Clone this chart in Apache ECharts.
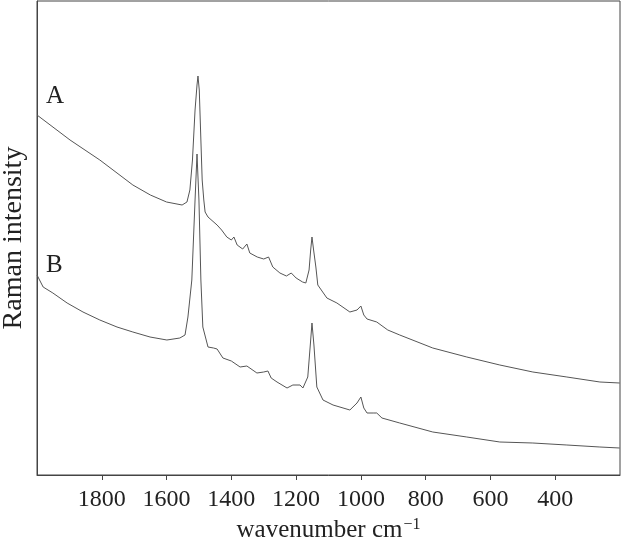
<!DOCTYPE html>
<html>
<head>
<meta charset="utf-8">
<script src="https://cdn.jsdelivr.net/npm/echarts@6/dist/echarts.min.js"></script>
<style>
  html, body { margin: 0; padding: 0; background: #fff; }
  #chart { width: 622px; height: 539px; }
</style>
</head>
<body>
<div id="chart"></div>
<script>
// wavenumber (cm-1) and intensity (arbitrary units)
var wavenumberA = [2000, 1898, 1806, 1704, 1650, 1600, 1552, 1537, 1528, 1520, 1512, 1506, 1503, 1499, 1494, 1490, 1485, 1481, 1472, 1444, 1430, 1414, 1400, 1392, 1382, 1365, 1352, 1343, 1320, 1300, 1285, 1272, 1250, 1230, 1215, 1200, 1180, 1170, 1160, 1155, 1151, 1146, 1139, 1133, 1105, 1074, 1034, 1012, 1000, 991, 981, 951, 917, 880, 778, 673, 571, 469, 364, 262, 201]
var intensityA = [360, 335, 315, 290, 280, 273, 270, 273, 285, 315, 365, 390, 399, 385, 335, 295, 275, 263, 258, 250, 245, 238, 235, 238, 230, 226, 231, 222, 218, 216, 218, 208, 202, 199, 202, 197, 193, 192, 205, 225, 238, 225, 208, 190, 177, 172, 163, 165, 169, 160, 156, 153, 145, 140, 127, 118, 110, 103, 98, 93, 92]

var wavenumberB = [2000, 1981, 1951, 1907, 1858, 1806, 1753, 1704, 1651, 1599, 1559, 1543, 1534, 1522, 1512, 1506, 1500, 1494, 1488, 1472, 1455, 1444, 1426, 1400, 1395, 1373, 1352, 1321, 1300, 1287, 1277, 1259, 1228, 1210, 1188, 1179, 1164, 1155, 1151, 1145, 1136, 1117, 1086, 1034, 1012, 1000, 991, 981, 960, 951, 935, 880, 778, 673, 571, 469, 364, 262, 201]
var intensityB = [200, 188, 182, 172, 163, 155, 148, 143, 138, 135, 137, 140, 158, 195, 275, 321, 275, 195, 148, 128, 127, 126, 117, 114, 116, 108, 109, 102, 103, 104, 97, 93, 87, 90, 90, 87, 98, 135, 152, 130, 88, 75, 70, 65, 72, 78, 67, 62, 62, 62, 57, 52, 43, 38, 33, 32, 30, 28, 27]

var xTicks = [1800, 1600, 1400, 1200, 1000, 800, 600, 400]

function pairs (xs, ys) {
  var out = []
  for (var i = 0; i < xs.length; i++) {
    out.push([xs[i], ys[i]])
  }
  return out
}

var chart = echarts.init(document.getElementById('chart'))
var serif = '"Liberation Serif", "DejaVu Serif", serif'
var option = {
  animation: false,
  grid: {
    left: 37,
    right: 2,
    top: 1,
    bottom: 64,
    outerBoundsMode: 'none',
    containLabel: false,
    show: true,
    borderColor: '#444',
    borderWidth: 1
  },
  xAxis: {
    type: 'value',
    inverse: true,
    min: 200,
    max: 2000,
    interval: 200,
    name: 'wavenumber cm{sup|\u22121}',
    nameLocation: 'middle',
    nameGap: 40,
    nameTextStyle: {
      fontFamily: serif,
      fontSize: 25,
      color: '#222',
      rich: {
        sup: { fontFamily: serif, fontSize: 16, color: '#222', verticalAlign: 'top', padding: [0, 0, 12, 1] }
      }
    },
    axisLine: { lineStyle: { color: '#444', width: 1 } },
    axisTick: { show: true, length: 5, customValues: xTicks, lineStyle: { color: '#444' } },
    axisLabel: {
      customValues: xTicks,
      margin: 13,
      fontFamily: serif,
      fontSize: 24,
      color: '#222',
      formatter: function (v) { return String(v) }
    },
    splitLine: { show: false }
  },
  yAxis: {
    type: 'value',
    min: 0,
    max: 474,
    name: 'Raman intensity',
    nameLocation: 'middle',
    nameGap: 9,
    nameTextStyle: { fontFamily: serif, fontSize: 28, color: '#222' },
    axisLine: { show: true, lineStyle: { color: '#444', width: 1 } },
    axisTick: { show: false },
    axisLabel: { show: false },
    splitLine: { show: false }
  },
  graphic: [
    { type: 'text', left: 46, top: 84, style: { text: 'A', font: '25px ' + serif, fill: '#222' } },
    { type: 'text', left: 46, top: 253, style: { text: 'B', font: '25px ' + serif, fill: '#222' } }
  ],
  series: [
    {
      name: 'A',
      type: 'line',
      data: pairs(wavenumberA, intensityA),
      showSymbol: false,
      smooth: false,
      lineStyle: { color: '#555', width: 1 }
    },
    {
      name: 'B',
      type: 'line',
      data: pairs(wavenumberB, intensityB),
      showSymbol: false,
      smooth: false,
      lineStyle: { color: '#555', width: 1 }
    }
  ]
}
chart.setOption(option)
</script>
</body>
</html>
